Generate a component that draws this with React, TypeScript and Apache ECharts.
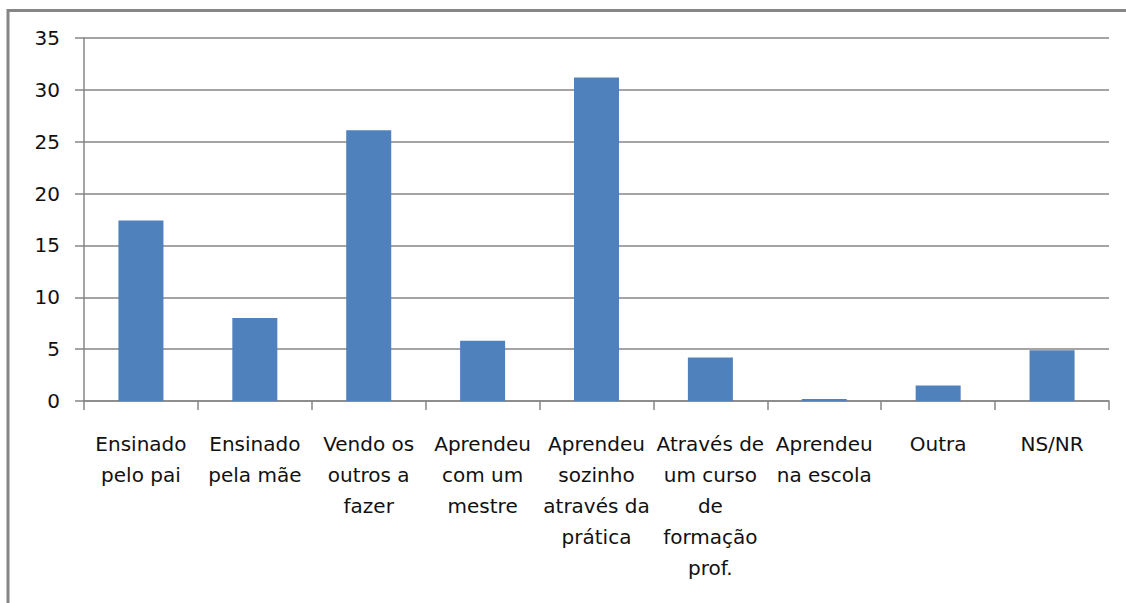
import React, { useEffect, useRef } from "react";
import * as echarts from "echarts";

const categories = [
  "Ensinado\npelo pai",
  "Ensinado\npela mãe",
  "Vendo os\noutros a\nfazer",
  "Aprendeu\ncom um\nmestre",
  "Aprendeu\nsozinho\natravés da\nprática",
  "Através de\num curso\nde\nformação\nprof.",
  "Aprendeu\nna escola",
  "Outra",
  "NS/NR",
];
const values = [17.4, 8.0, 26.1, 5.8, 31.2, 4.2, 0.2, 1.5, 4.9];

const FONT = "DejaVu Sans";
const GRAY = "#868686";

export default function App() {
  const ref = useRef<HTMLDivElement>(null);
  useEffect(() => {
    if (!ref.current) return;
    const chart = echarts.init(ref.current, undefined, { renderer: "svg" });
    chart.setOption({
      animation: false,
      backgroundColor: "#ffffff",
      graphic: [
        {
          type: "rect",
          shape: { x: 8, y: 10.5, width: 1300, height: 800 },
          style: { fill: "none", stroke: GRAY, lineWidth: 3 },
          silent: true,
        },
      ],
      grid: { left: 84, right: 17, top: 38, bottom: 202, containLabel: false },
      xAxis: {
        type: "category",
        data: categories,
        axisLine: { show: true, lineStyle: { color: GRAY, width: 1.5 } },
        axisTick: { show: true, length: 9, alignWithLabel: false, lineStyle: { color: GRAY, width: 1.5 } },
        axisLabel: {
          interval: 0,
          margin: 27,
          color: "#111",
          fontFamily: FONT,
          fontSize: 20,
          lineHeight: 31,
          align: "center",
        },
        splitLine: { show: false },
      },
      yAxis: {
        type: "value",
        min: 0,
        max: 35,
        interval: 5,
        axisLine: { show: true, lineStyle: { color: GRAY, width: 1.5 } },
        axisTick: { show: true, length: 9, lineStyle: { color: GRAY, width: 1.5 } },
        axisLabel: {
          margin: 24,
          color: "#111",
          fontFamily: FONT,
          fontSize: 20,
        },
        splitLine: { show: true, lineStyle: { color: GRAY, width: 1.5 } },
      },
      series: [
        {
          type: "bar",
          data: values,
          barWidth: 45,
          itemStyle: { color: "#4F81BD" },
        },
      ],
    });
    return () => chart.dispose();
  }, []);
  return (
    <div
      ref={ref}
      style={{ position: "absolute", left: 0, top: 0, width: 1126, height: 603 }}
    />
  );
}
